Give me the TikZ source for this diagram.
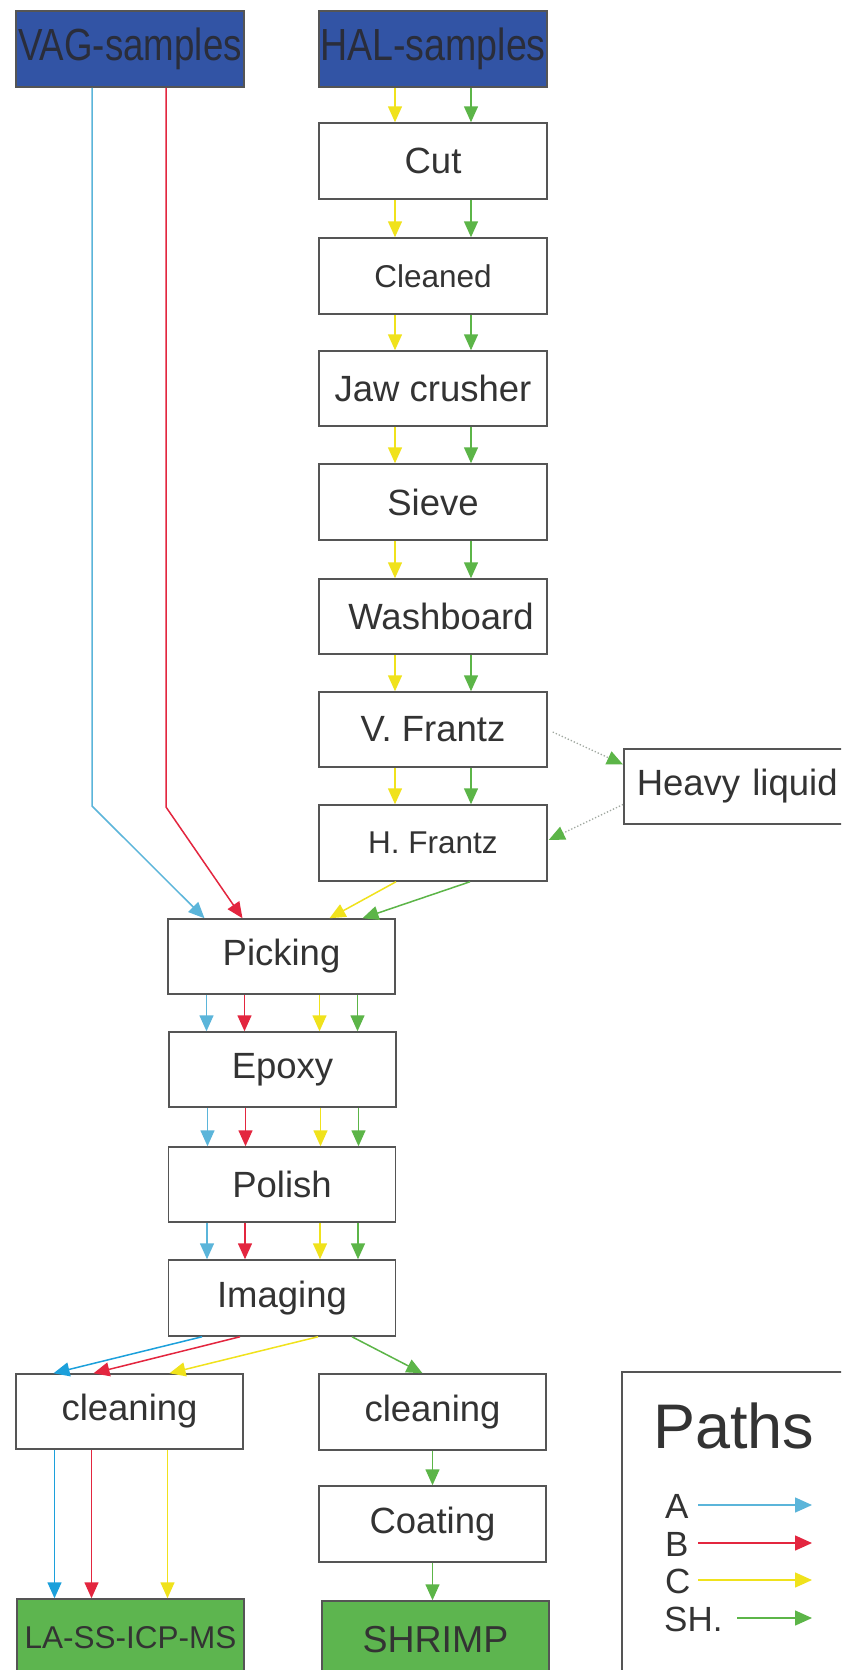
\documentclass[tikz,border=0pt]{standalone}
\usepackage{fontspec}
\usepackage{graphicx}
\setmainfont{Liberation Sans}
\usetikzlibrary{arrows.meta}
\definecolor{cA}{HTML}{5BB5DA}
\definecolor{cAd}{HTML}{1CA0DB}
\definecolor{cB}{HTML}{E3263F}
\definecolor{cC}{HTML}{F0E21C}
\definecolor{cSH}{HTML}{5CB548}
\definecolor{boxline}{HTML}{555555}
\definecolor{txt}{HTML}{333333}
\definecolor{txtdark}{HTML}{2A2D3A}
\definecolor{bluefill}{HTML}{3254A5}
\definecolor{greenfill}{HTML}{5DB54F}
\definecolor{dotline}{HTML}{A0A8A0}
\begin{document}
\begin{tikzpicture}[x=1pt,y=-1pt,
  box/.style={draw=boxline, line width=1.5pt, fill=white, minimum width=228pt,
    minimum height=76pt, inner sep=0pt, text=txt, font=\fontsize{36.5}{40}\selectfont},
  smallbox/.style={box, font=\fontsize{31.5}{35}\selectfont},
  bluebox/.style={box, fill=bluefill, text=txtdark, font=\fontsize{45}{50}\selectfont},
  greenbox/.style={box, fill=greenfill, minimum height=78pt},
  flow/.style={line width=1.5pt, -{Triangle[length=16pt,width=14pt]}},
  dotflow/.style={line width=1.3pt, dotline, dotted, -{Triangle[length=16pt,width=14pt,color=cSH,fill=cSH]}},
  legarrow/.style={line width=1.5pt, -{Triangle[length=17pt,width=15pt]}},
  leglbl/.style={anchor=base west, inner sep=0pt, text=txt, font=\fontsize{35}{38}\selectfont}
]
\useasboundingbox (0,0) rectangle (841,1670);
\clip (0,0) rectangle (841,1670);
\fill[white] (0,0) rectangle (841,1670);

% sources
\node[bluebox] (VAG) at (130,49) {\scalebox{0.815}[1]{VAG-samples}};
\node[bluebox] (HAL) at (433,49) {\scalebox{0.835}[1]{HAL-samples}};

% HAL column
\node[box] (Cut) at (433,161) {Cut};
\node[smallbox] (Cleaned) at (433,276) {Cleaned};
\node[box, minimum height=75pt] (Jaw) at (433,388.5) {Jaw crusher};
\node[box] (Sieve) at (433,502) {Sieve};
\node[box, minimum height=75pt] (Wash) at (433,616.5) {\hspace*{16pt}Washboard};
\node[box, minimum height=75pt] (VF) at (433,729.5) {V. Frantz};
\node[smallbox] (HF) at (433,843) {H. Frantz};
\node[box, minimum height=75pt, anchor=west, text width=211pt, inner xsep=13pt, align=left] (HL) at (623,786.5) {Heavy liquid};

% middle column
\node[box, minimum width=227pt, minimum height=75pt] (Pick) at (281.5,956.5) {Picking};
\node[box, minimum width=227pt, minimum height=75pt] (Epoxy) at (282.5,1069.5) {Epoxy};
\node[box, minimum width=227pt, minimum height=75pt] (Polish) at (282,1184.5) {Polish};
\node[box, minimum width=227pt] (Imaging) at (282,1298) {Imaging};

% bottom
\node[box, minimum width=227pt, minimum height=75pt] (cleanL) at (129.5,1411.5) {cleaning};
\node[box, minimum width=227pt] (cleanR) at (432.5,1412) {cleaning};
\node[box, minimum width=227pt] (Coating) at (432.5,1524) {Coating};
\node[greenbox, minimum width=227pt, font=\fontsize{31.5}{35}\selectfont] (LASS) at (130.5,1638) {LA-SS-ICP-MS};
\node[greenbox, minimum width=227pt, font=\fontsize{37.5}{41}\selectfont] (SHRIMP) at (435.5,1640) {SHRIMP};

% legend
\node[draw=boxline, line width=1.5pt, minimum width=260pt, minimum height=340pt, anchor=north west, inner sep=0pt] (legend) at (621,1371) {};
\node[anchor=base west, inner sep=0pt, text=txt, font=\fontsize{63}{70}\selectfont] (paths) at (653,1448) {Paths};
\node[leglbl] (lA) at (665,1518) {A};
\node[leglbl] (lB) at (665,1556) {B};
\node[leglbl] (lC) at (665,1593) {C};
\node[leglbl] (lSH) at (664,1631) {SH.};
\coordinate (aA1) at (698,1505); \coordinate (aA2) at (812,1505);
\coordinate (aB1) at (698,1543); \coordinate (aB2) at (812,1543);
\coordinate (aC1) at (698,1580); \coordinate (aC2) at (812,1580);
\coordinate (aS1) at (737,1618); \coordinate (aS2) at (812,1618);
\draw[legarrow, cA] (aA1) -- (aA2);
\draw[legarrow, cB] (aB1) -- (aB2);
\draw[legarrow, cC] (aC1) -- (aC2);
\draw[legarrow, cSH] (aS1) -- (aS2);

% HAL column connectors
\foreach \a/\b in {HAL/Cut, Cut/Cleaned, Cleaned/Jaw, Jaw/Sieve, Sieve/Wash, Wash/VF, VF/HF} {
  \draw[flow, cC] ([xshift=-38pt]\a.south) -- ([xshift=-38pt]\b.north);
  \draw[flow, cSH] ([xshift=38pt]\a.south) -- ([xshift=38pt]\b.north);
}

% heavy liquid detour
\draw[dotflow] ([xshift=5pt,yshift=-2.5pt]VF.east) -- ([yshift=22pt]HL.west);
\draw[dotflow] ([yshift=-18pt]HL.west) -- ([xshift=1pt,yshift=3pt]HF.east);

% VAG to picking
\coordinate (bA) at (92,806);
\coordinate (bB) at (166,807);
\draw[flow, cA] ([xshift=-38pt]VAG.south) -- (bA) -- ([xshift=-77pt]Pick.north);
\draw[flow, cB] ([xshift=36pt]VAG.south) -- (bB) -- ([xshift=-39pt]Pick.north);

% H. Frantz to picking
\draw[flow, cC] ([xshift=-37pt]HF.south) -- ([xshift=48pt]Pick.north);
\draw[flow, cSH] ([xshift=37pt]HF.south) -- ([xshift=81pt]Pick.north);

% middle column connectors
\foreach \a/\b in {Pick/Epoxy, Epoxy/Polish, Polish/Imaging} {
  \draw[flow, cA] ([xshift=-75pt]\a.south) -- ([xshift=-75pt]\a.south |- \b.north);
  \draw[flow, cB] ([xshift=-37pt]\a.south) -- ([xshift=-37pt]\a.south |- \b.north);
  \draw[flow, cC] ([xshift=38pt]\a.south) -- ([xshift=38pt]\a.south |- \b.north);
  \draw[flow, cSH] ([xshift=76pt]\a.south) -- ([xshift=76pt]\a.south |- \b.north);
}

% imaging to cleaning
\draw[flow, cAd] ([xshift=-80pt]Imaging.south) -- ([xshift=-76pt]cleanL.north);
\draw[flow, cB] ([xshift=-42pt]Imaging.south) -- ([xshift=-36pt]cleanL.north);
\draw[flow, cC] ([xshift=36pt]Imaging.south) -- ([xshift=40pt]cleanL.north);
\draw[flow, cSH] ([xshift=70pt]Imaging.south) -- ([xshift=-10pt]cleanR.north);

% cleaning to instruments
\draw[flow, cAd] ([xshift=-75pt]cleanL.south) -- ([xshift=-75pt]cleanL.south |- LASS.north);
\draw[flow, cB] ([xshift=-38pt]cleanL.south) -- ([xshift=-38pt]cleanL.south |- LASS.north);
\draw[flow, cC] ([xshift=38pt]cleanL.south) -- ([xshift=38pt]cleanL.south |- LASS.north);
\draw[flow, cSH] (cleanR.south) -- (cleanR.south |- Coating.north);
\draw[flow, cSH] (Coating.south) -- (Coating.south |- SHRIMP.north);
\end{tikzpicture}
\end{document}
